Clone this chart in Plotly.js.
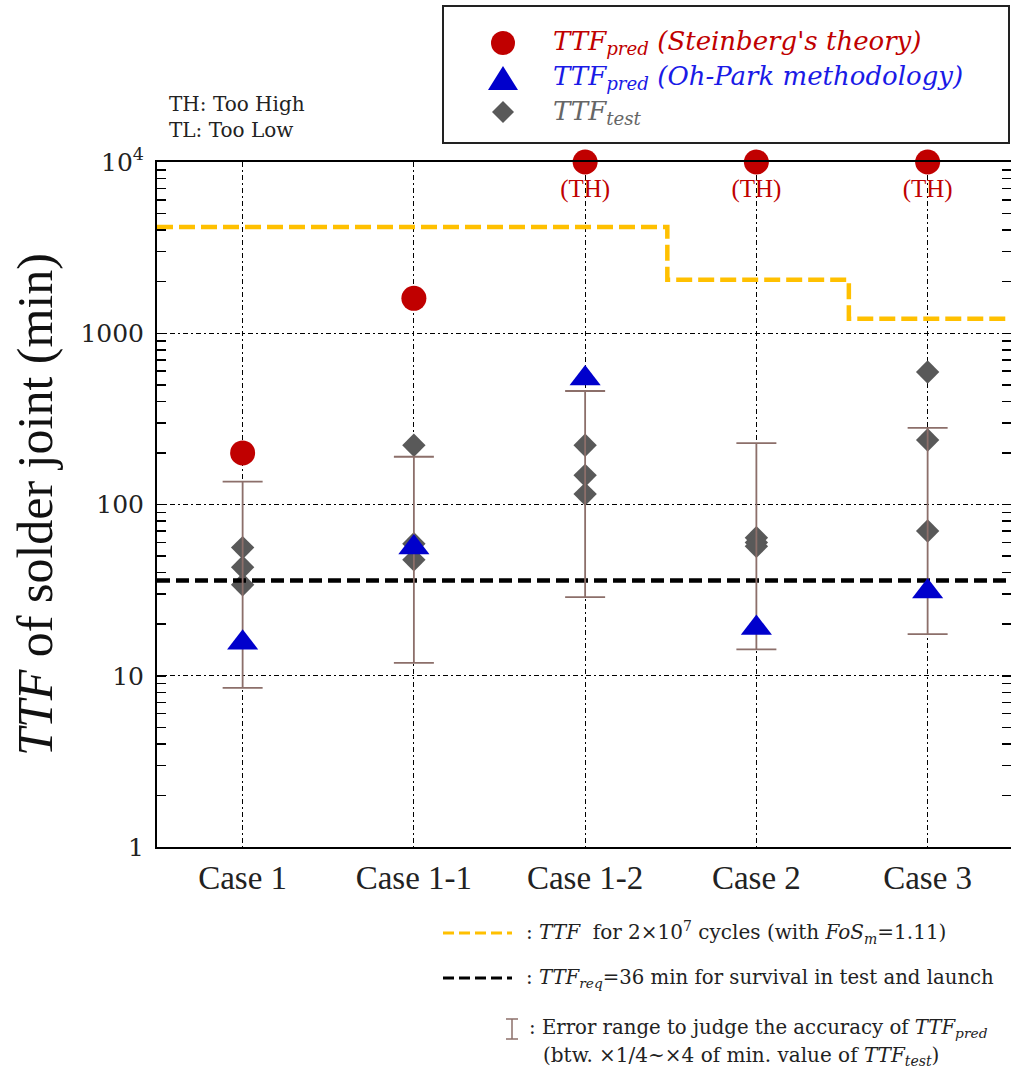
<!DOCTYPE html>
<html>
<head>
<meta charset="utf-8">
<script src="https://cdn.plot.ly/plotly-3.0.1.min.js"></script>
<style>
  html, body { margin: 0; padding: 0; background: #fff; }
  #chart { width: 1011px; height: 1072px; }
</style>
</head>
<body>
<div id="chart"></div>
<script>
// ---- data ----
const cases = ['Case 1', 'Case 1-1', 'Case 1-2', 'Case 2', 'Case 3'];
const caseIndex = [0, 1, 2, 3, 4];

// TTF_pred from Steinberg's theory (values beyond the axis are held at 10^4 and tagged TH)
const steinbergTTF = [200, 1600, 10000, 10000, 10000];
const steinbergTag = ['', '', '(TH)', '(TH)', '(TH)'];

// TTF_pred from the Oh-Park methodology
const ohParkTTF = [15.6, 56, 545, 19, 31];

// TTF_test measurements (case index, minutes)
const testCase = [0, 0, 0, 1, 1, 1, 2, 2, 2, 3, 3, 3, 4, 4, 4];
const testTTF = [56, 43, 34, 222, 59, 47.5, 222, 148, 115, 64, 60, 57, 594, 238, 70];

// TTF for 2x10^7 cycles (step line across the cases)
const cycleStepX = [-0.5, 2.48, 3.54, 4.49];
const cycleStepTTF = [4170, 2050, 1215, 1215];

// required TTF
const requiredTTF = 36;
const reqLineX = [-0.5, 4.49];

// accuracy band: x1/4 ~ x4 of the minimum TTF_test of each case
const bandFactor = 4;

// ---- derived ----
const minTest = caseIndex.map(c => Math.min(...testTTF.filter((v, i) => testCase[i] === c)));
const bandPlus = minTest.map(v => v * bandFactor - v);
const bandMinus = minTest.map(v => v - v / bandFactor);
const tagIdx = caseIndex.filter(i => steinbergTag[i] !== '');

// ---- page geometry ----
const FIG_W = 1011, FIG_H = 1072;
const L = 157, T = 162, B = 847;
const PW = FIG_W - L, PH = B - T;
const unit = 171.25;               // px per case
const xp = px => (px - L) / PW;    // page px -> paper
const yp = py => (B - py) / PH;

const RED = '#C00000', BLUE = '#0000CC', GREY = '#595959', GOLD = '#FFC000', BROWN = '#8C6F6A';
const SERIF = 'Liberation Serif, Times New Roman, serif';
const WIDE = 'DejaVu Serif, serif';

const traces = [
  {
    x: testCase, y: testTTF, type: 'scatter', mode: 'markers',
    marker: { symbol: 'diamond', size: 18, color: GREY },
    hoverinfo: 'y', showlegend: false
  },
  {
    x: reqLineX, y: reqLineX.map(() => requiredTTF), type: 'scatter', mode: 'lines',
    line: { color: '#000', width: 4.5, dash: '13px,6px' }, hoverinfo: 'skip', showlegend: false
  },
  {
    x: cycleStepX, y: cycleStepTTF, type: 'scatter', mode: 'lines',
    line: { color: GOLD, width: 4.5, dash: '16px,6px', shape: 'hv' }, hoverinfo: 'skip', showlegend: false
  },
  {
    x: caseIndex, y: minTest, type: 'scatter', mode: 'markers',
    marker: { size: 2, color: 'rgba(0,0,0,0)' },
    error_y: { type: 'data', symmetric: false, array: bandPlus, arrayminus: bandMinus,
               color: BROWN, thickness: 1.8, width: 20 },
    hoverinfo: 'skip', showlegend: false
  },
  {
    x: caseIndex, y: ohParkTTF, type: 'scatter', mode: 'markers',
    marker: { symbol: 'triangle-up', size: 27, color: BLUE },
    showlegend: false
  },
  {
    x: caseIndex, y: steinbergTTF, type: 'scatter', mode: 'markers',
    marker: { symbol: 'circle', size: 25, color: RED },
    cliponaxis: false, showlegend: false
  },
  {
    // "(TH)" tags under the capped Steinberg points (clear marker keeps the text below the dot)
    x: tagIdx, y: tagIdx.map(i => steinbergTTF[i]), text: tagIdx.map(i => steinbergTag[i]),
    type: 'scatter', mode: 'markers+text', textposition: 'bottom center',
    marker: { symbol: 'circle', size: 25, color: 'rgba(0,0,0,0)' },
    textfont: { family: SERIF, size: 25, color: RED },
    cliponaxis: false, hoverinfo: 'skip', showlegend: false
  }
];

// legend glyphs (upper box) and key lines (below the plot)
const triPath = (cx, cy, w, h) =>
  `M ${xp(cx - w / 2)} ${yp(cy + h / 2)} L ${xp(cx + w / 2)} ${yp(cy + h / 2)} L ${xp(cx)} ${yp(cy - h / 2)} Z`;
const diaPath = (cx, cy, w, h) =>
  `M ${xp(cx)} ${yp(cy - h / 2)} L ${xp(cx + w / 2)} ${yp(cy)} L ${xp(cx)} ${yp(cy + h / 2)} L ${xp(cx - w / 2)} ${yp(cy)} Z`;

const shapes = [
  { type: 'rect', xref: 'paper', yref: 'paper', x0: xp(443), x1: xp(1009), y0: yp(143), y1: yp(6),
    line: { color: '#222', width: 2 }, fillcolor: '#fff', layer: 'above' },
  { type: 'circle', xref: 'paper', yref: 'paper', x0: xp(491), x1: xp(515), y0: yp(55), y1: yp(31),
    fillcolor: RED, line: { width: 0 }, layer: 'above' },
  { type: 'path', xref: 'paper', yref: 'paper', path: triPath(503, 78, 30, 24),
    fillcolor: BLUE, line: { width: 0 }, layer: 'above' },
  { type: 'path', xref: 'paper', yref: 'paper', path: diaPath(503, 112, 22, 22),
    fillcolor: GREY, line: { width: 0 }, layer: 'above' },
  { type: 'line', xref: 'paper', yref: 'paper', x0: xp(443), x1: xp(512), y0: yp(933), y1: yp(933),
    line: { color: GOLD, width: 3, dash: '11px,5px' } },
  { type: 'line', xref: 'paper', yref: 'paper', x0: xp(443), x1: xp(512), y0: yp(978), y1: yp(978),
    line: { color: '#000', width: 3, dash: '11px,5px' } },
  { type: 'line', xref: 'paper', yref: 'paper', x0: xp(512), x1: xp(512), y0: yp(1019), y1: yp(1039),
    line: { color: BROWN, width: 1.5 } },
  { type: 'line', xref: 'paper', yref: 'paper', x0: xp(506), x1: xp(518), y0: yp(1019), y1: yp(1019),
    line: { color: BROWN, width: 1.5 } },
  { type: 'line', xref: 'paper', yref: 'paper', x0: xp(506), x1: xp(518), y0: yp(1039), y1: yp(1039),
    line: { color: BROWN, width: 1.5 } }
];

const note = (x, y, text, size, color, family) => ({
  xref: 'paper', yref: 'paper', x: xp(x), y: yp(y), xanchor: 'left', yanchor: 'middle',
  text, showarrow: false, font: { family: family || WIDE, size, color: color || '#222' }
});

const annotations = [
  note(167, 104, 'TH: Too High', 20),
  note(167, 130, 'TL: Too Low', 20),
  note(551, 43, '<i>TTF<sub>pred</sub> (Steinberg\'s theory)</i>', 26, RED),
  note(551, 78, '<i>TTF<sub>pred</sub> (Oh-Park methodology)</i>', 26, '#1a1aE6'),
  note(551, 112, '<i>TTF<sub>test</sub></i>', 26, '#666'),
  note(524, 933, ': <i>TTF</i>  for 2×10<sup>7</sup> cycles (with <i>FoS<sub>m</sub></i>=1.11)', 20),
  note(524, 978, ': <i>TTF<sub>req</sub></i>=36 min for survival in test and launch', 19.7),
  note(527, 1028, ': Error range to judge the accuracy of <i>TTF<sub>pred</sub></i>', 19.7),
  note(541, 1056, '(btw. ×1/4~×4 of min. value of <i>TTF<sub>test</sub></i>)', 20)
];

const layout = {
  width: FIG_W, height: FIG_H,
  margin: { l: L, r: 0, t: T, b: FIG_H - B, pad: 0 },
  paper_bgcolor: '#fff', plot_bgcolor: '#fff',
  showlegend: false,
  xaxis: {
    type: 'linear', range: [-0.5, -0.5 + PW / unit],
    tickvals: caseIndex, ticktext: cases, ticks: '',
    tickfont: { family: SERIF, size: 33, color: '#222' },
    showgrid: true, gridcolor: '#000', gridwidth: 1, griddash: '5px,3px,2px,3px',
    showline: true, linecolor: '#000', linewidth: 2, mirror: true,
    zeroline: false, fixedrange: true
  },
  yaxis: {
    type: 'log', range: [0, 4],
    tickvals: [1, 10, 100, 1000, 10000],
    ticktext: ['1', '10', '100', '1000', '10<sup>4</sup>'],
    ticks: 'inside', ticklen: 9, tickwidth: 1.5, tickcolor: '#000',
    minor: { ticks: 'inside', ticklen: 9, tickwidth: 1.5, tickcolor: '#000', dtick: 'D1', showgrid: false },
    tickfont: { family: WIDE, size: 25, color: '#222' },
    ticklabelstandoff: 6,
    showgrid: true, gridcolor: '#000', gridwidth: 1, griddash: '5px,3px,2px,3px',
    showline: true, linecolor: '#000', linewidth: 2, mirror: 'ticks',
    zeroline: false, fixedrange: true,
    title: { text: '<i>TTF</i> of solder joint (min)', font: { family: SERIF, size: 50, color: '#111' }, standoff: 12 }
  },
  shapes, annotations
};

Plotly.newPlot('chart', traces, layout, { staticPlot: true, displayModeBar: false });
</script>
</body>
</html>
